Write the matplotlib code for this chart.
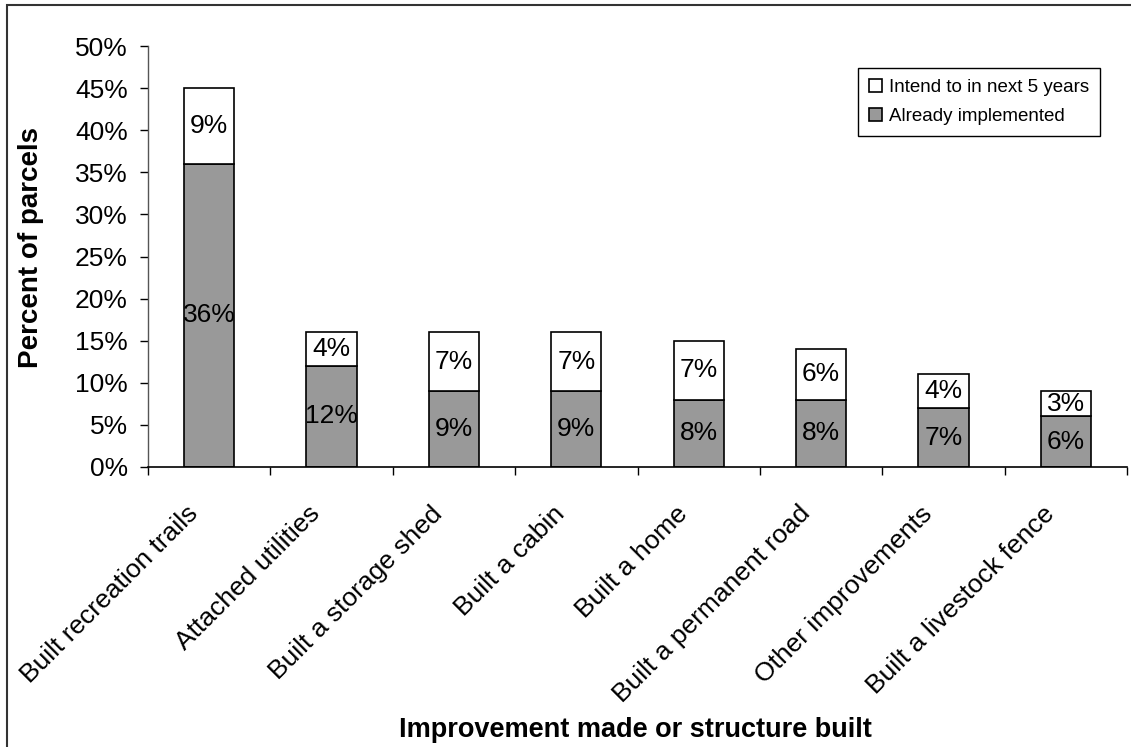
import matplotlib
matplotlib.use("Agg")
from matplotlib import pyplot as plt
from matplotlib.patches import Rectangle
from matplotlib.ticker import PercentFormatter
from matplotlib.transforms import ScaledTranslation
import numpy as np

categories = [
    "Built recreation trails",
    "Attached utilities",
    "Built a storage shed",
    "Built a cabin",
    "Built a home",
    "Built a permanent road",
    "Other improvements",
    "Built a livestock fence",
]
already = [36, 12, 9, 9, 8, 8, 7, 6]
intend = [9, 4, 7, 7, 7, 6, 4, 3]

plt.rcParams["font.family"] = ["Liberation Sans", "DejaVu Sans"]

W, H = 1131, 747
fig = plt.figure(figsize=(W / 100, H / 100), dpi=100)
ax = fig.add_axes([148 / W, 1 - 467 / H, (1127 - 148) / W, (467 - 46) / H])

x = np.arange(len(categories))
already = np.array(already)
intend = np.array(intend)

b1 = ax.bar(x, already, width=0.41, color="#999999", edgecolor="black",
            linewidth=1.2, label="Already implemented")
b2 = ax.bar(x, intend, width=0.41, bottom=already, color="white",
            edgecolor="black", linewidth=1.2, label="Intend to in next 5 years")

for xi, a, i in zip(x, already, intend):
    ax.text(xi, a / 2, f"{a}%", ha="center", va="center", fontsize=19)
    ax.text(xi, a + i / 2, f"{i}%", ha="center", va="center", fontsize=19)

ax.set_xlim(-0.5, len(categories) - 0.5)
ax.set_ylim(0, 50)
ax.set_yticks(np.arange(0, 51, 5))
ax.yaxis.set_major_formatter(PercentFormatter(decimals=0))
ax.tick_params(axis="y", labelsize=19, length=6, width=1, pad=8.5)

# tick marks on category boundaries, rotated names placed below the centres
ax.set_xticks(np.append(x - 0.5, len(categories) - 0.5))
ax.set_xticklabels([])
ax.tick_params(axis="x", which="major", length=6, width=1)
lab_trans = ax.get_xaxis_transform() + ScaledTranslation(-15 / 100, -43 / 100, fig.dpi_scale_trans)
for xi, name in zip(x, categories):
    ax.text(xi, 0, name, transform=lab_trans, rotation=45, ha="right",
            va="center", rotation_mode="anchor", fontsize=19, clip_on=False)

for side in ("top", "right"):
    ax.spines[side].set_visible(False)
ax.spines["left"].set_linewidth(1)
ax.spines["bottom"].set_linewidth(1.2)
ax.spines["left"].set_color("#555555")

fig.text(31 / W, 1 - 248 / H, "Percent of parcels", rotation=90,
         ha="center", va="center", fontsize=20, fontweight="bold")
fig.text(635 / W, 1 - 730 / H, "Improvement made or structure built",
         ha="center", va="center", fontsize=19.5, fontweight="bold")

leg = ax.legend(handles=[b2, b1], loc="upper left",
                bbox_to_anchor=((858 - 148) / (1127 - 148), (467 - 68) / (467 - 46)),
                fontsize=13.5, frameon=True, fancybox=False, framealpha=1,
                handlelength=0.7, handleheight=0.7, handletextpad=0.35,
                borderpad=0.6, labelspacing=0.6, borderaxespad=0)
leg.get_frame().set_edgecolor("black")
leg.get_frame().set_linewidth(1)

fig.patches.append(Rectangle((7 / W, -0.1), 1.2, 1.1 - 5 / H,
                             transform=fig.transFigure, fill=False,
                             edgecolor="#333333", linewidth=1.5))

fig.savefig("out.png", dpi=100)
